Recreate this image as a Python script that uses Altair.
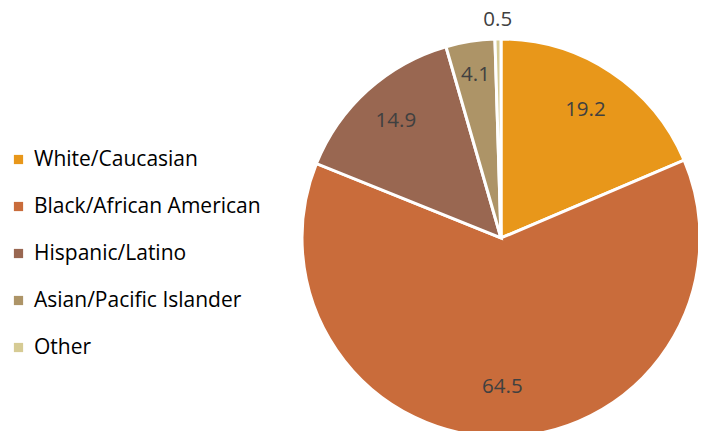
import altair as alt
import pandas as pd

categories = ["White/Caucasian", "Black/African American", "Hispanic/Latino",
              "Asian/Pacific Islander", "Other"]
values = [19.2, 64.5, 14.9, 4.1, 0.5]
labels = ["19.2", "64.5", "14.9", "4.1", "0.5"]
label_radius = [153, 149, 157, 165, 218]
colors = ["#E8971A", "#C96C3B", "#996751", "#AD9467", "#D6CB94"]

df = pd.DataFrame({
    "category": categories,
    "value": values,
    "label": labels,
    "lr": label_radius,
    "idx": list(range(len(categories))),
})
df["end"] = df["value"].cumsum()
df["start"] = df["end"] - df["value"]
df["mid"] = (df["start"] + df["end"]) / 2
total = float(df["value"].sum())

FONT = "Open Sans"
CX, CY, R = 493, 230, 199
theta_scale = alt.Scale(domain=[0, total])

arcs = alt.Chart(df).mark_arc(radius=R, stroke="white", strokeWidth=3).encode(
    theta=alt.Theta("start:Q", scale=theta_scale),
    theta2="end:Q",
    x=alt.value(CX),
    y=alt.value(CY),
    color=alt.Color(
        "category:N",
        scale=alt.Scale(domain=categories, range=colors),
        sort=categories,
        legend=alt.Legend(
            title=None,
            orient="none",
            legendX=0,
            legendY=141,
            symbolType="square",
            symbolSize=85,
            symbolStrokeWidth=0,
            labelFont=FONT,
            labelFontSize=21,
            labelColor="#000000",
            labelLimit=400,
            rowPadding=25,
            labelOffset=5,
        ),
    ),
)

texts = alt.Chart(df).mark_text(font=FONT, fontSize=20.5, color="#404040").encode(
    theta=alt.Theta("mid:Q", scale=theta_scale),
    x=alt.value(CX),
    y=alt.value(CY),
    radius=alt.Radius("lr:Q", scale=None),
    text="label:N",
)

chart = alt.layer(arcs, texts).properties(
    width=690, height=423, padding=0,
    autosize=alt.AutoSizeParams(type="none"),
).configure_view(stroke=None)

chart.save("out.html", embed_options={"renderer": "svg", "actions": False})
